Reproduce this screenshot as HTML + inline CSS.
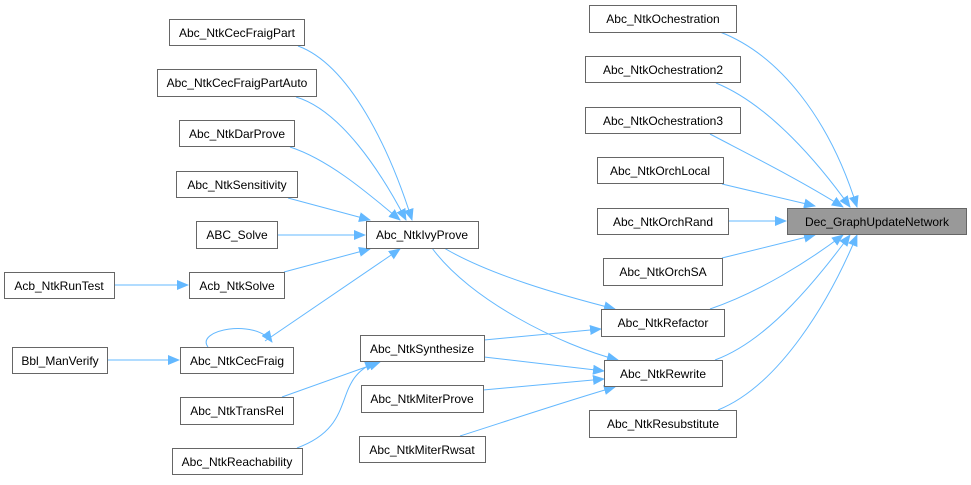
<!DOCTYPE html>
<html><head><meta charset="utf-8"><style>
body{margin:0;background:#fff}
svg text{font-family:"Liberation Sans",Arial,sans-serif;font-size:12px;fill:#000}
</style></head><body>
<svg width="971" height="480" viewBox="0 0 971 480" xmlns="http://www.w3.org/2000/svg">
<defs><marker id="a" markerWidth="12" markerHeight="10" refX="11" refY="5" orient="auto" markerUnits="userSpaceOnUse"><path d="M0,0 L12,5 L0,10 z" fill="#63b8ff"/></marker></defs>
<g fill="none" stroke="#63b8ff" stroke-width="1" marker-end="url(#a)">
<path d="M720,32 C780,55 830,120 857,207"/>
<path d="M716,83 C770,105 820,165 850,207"/>
<path d="M710,134 C750,155 800,180 843,207"/>
<path d="M722,184 L815,206"/>
<path d="M728,221 L786,221"/>
<path d="M722,258 L815,235"/>
<path d="M710,309 C760,292 810,260 843,235"/>
<path d="M715,360 C770,340 820,275 850,235"/>
<path d="M718,410 C780,385 830,300 857,235"/>
<path d="M298,46 C350,65 390,150 412,220"/>
<path d="M296,97 C340,110 380,170 406,220"/>
<path d="M290,147 C330,160 370,195 400,220"/>
<path d="M288,198 L370,220"/>
<path d="M277,235 L365,235"/>
<path d="M284,272 L370,249"/>
<path d="M265,341 L400,249"/>
<path d="M114,285 L188,285"/>
<path d="M107,360 L179,360"/>
<path d="M208,347 C195,330 255,318 272,342"/>
<path d="M444,248 C490,275 560,295 615,309"/>
<path d="M432,248 C470,300 560,345 618,360"/>
<path d="M484,340 L601,329"/>
<path d="M484,357 L604,371"/>
<path d="M483,390 L604,379"/>
<path d="M460,436 C510,420 570,400 615,387"/>
<path d="M282,397 L380,362"/>
<path d="M297,448 C360,425 330,380 376,362"/>
</g>
<g stroke="#666" stroke-width="1" fill="#fff">
<rect x="169.5" y="19.5" width="135" height="26"/>
<rect x="157.5" y="69.5" width="159" height="27"/>
<rect x="179.5" y="120.5" width="115" height="26"/>
<rect x="176.5" y="171.5" width="121" height="26"/>
<rect x="196.5" y="221.5" width="81" height="27"/>
<rect x="366.5" y="221.5" width="112" height="27"/>
<rect x="4.5" y="272.5" width="110" height="26"/>
<rect x="189.5" y="272.5" width="95" height="26"/>
<rect x="12.5" y="347.5" width="95" height="26"/>
<rect x="180.5" y="347.5" width="113" height="26"/>
<rect x="360.5" y="335.5" width="124" height="26"/>
<rect x="180.5" y="397.5" width="113" height="27"/>
<rect x="361.5" y="385.5" width="122" height="27"/>
<rect x="172.5" y="448.5" width="130" height="26"/>
<rect x="359.5" y="436.5" width="126" height="26"/>
<rect x="589.5" y="5.5" width="147" height="27"/>
<rect x="585.5" y="56.5" width="155" height="26"/>
<rect x="585.5" y="107.5" width="155" height="26"/>
<rect x="597.5" y="157.5" width="126" height="26"/>
<rect x="597.5" y="208.5" width="131" height="26"/>
<rect x="787.5" y="208.5" width="179" height="26" fill="#999"/>
<rect x="603.5" y="258.5" width="119" height="27"/>
<rect x="601.5" y="309.5" width="123" height="27"/>
<rect x="604.5" y="360.5" width="118" height="26"/>
<rect x="589.5" y="410.5" width="147" height="27"/>
</g>
<g text-anchor="middle">
<text x="237" y="37">Abc_NtkCecFraigPart</text>
<text x="237" y="87">Abc_NtkCecFraigPartAuto</text>
<text x="237" y="138">Abc_NtkDarProve</text>
<text x="237" y="189">Abc_NtkSensitivity</text>
<text x="237" y="239">ABC_Solve</text>
<text x="422" y="239">Abc_NtkIvyProve</text>
<text x="59" y="290">Acb_NtkRunTest</text>
<text x="237" y="290">Acb_NtkSolve</text>
<text x="60" y="365">Bbl_ManVerify</text>
<text x="237" y="365">Abc_NtkCecFraig</text>
<text x="422" y="353">Abc_NtkSynthesize</text>
<text x="237" y="415">Abc_NtkTransRel</text>
<text x="422" y="403">Abc_NtkMiterProve</text>
<text x="237" y="466">Abc_NtkReachability</text>
<text x="422" y="454">Abc_NtkMiterRwsat</text>
<text x="663" y="23">Abc_NtkOchestration</text>
<text x="663" y="74">Abc_NtkOchestration2</text>
<text x="663" y="125">Abc_NtkOchestration3</text>
<text x="660" y="175">Abc_NtkOrchLocal</text>
<text x="663" y="226">Abc_NtkOrchRand</text>
<text x="877" y="226">Dec_GraphUpdateNetwork</text>
<text x="663" y="276">Abc_NtkOrchSA</text>
<text x="663" y="327">Abc_NtkRefactor</text>
<text x="663" y="378">Abc_NtkRewrite</text>
<text x="663" y="428">Abc_NtkResubstitute</text>
</g>
</svg>
</body></html>
